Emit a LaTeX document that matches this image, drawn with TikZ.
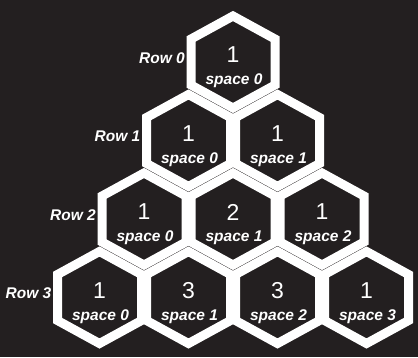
\documentclass[tikz,border=0pt]{standalone}
\usepackage{fontspec}
\setmainfont{Liberation Sans}
\usepackage{tikz}
\usetikzlibrary{positioning}
\definecolor{bgdark}{HTML}{231F20}
\tikzset{
  cell/.style={draw=white,line width=9pt,line join=miter},
  num/.style={text=white,inner sep=0pt,font=\fontsize{23}{23}\selectfont},
  spc/.style={text=white,inner sep=0pt,font=\fontsize{15.5}{15.5}\selectfont\bfseries\itshape},
  rowlab/.style={spc,anchor=east}
}
\begin{document}
\begin{tikzpicture}[x=1pt,y=-1pt]
\fill[bgdark](0,0)rectangle(418,357);
\useasboundingbox(0,0)rectangle(418,357);
\foreach \r/\vals in {0/{1},1/{1,1},2/{1,2,1},3/{1,3,3,1}}{
  \foreach \v [count=\k from 0] in \vals {
    \coordinate(c\r\k) at ({233-44.5*\r+89*\k},{62+78.5*\r});
    \draw[cell,shift={(c\r\k)}](0,-46)--(42,-23)--(42,23)--(0,46)--(-42,23)--(-42,-23)--cycle;
    \path(c\r\k)++(0,-7)node[num](n\r\k){\v};
    \path(c\r\k)++(1,19)node[spc](s\r\k){space \k};
  }
  \path(c\r0)++(-48,-4)node[rowlab](row\r){Row \r};
}
\end{tikzpicture}
\end{document}
